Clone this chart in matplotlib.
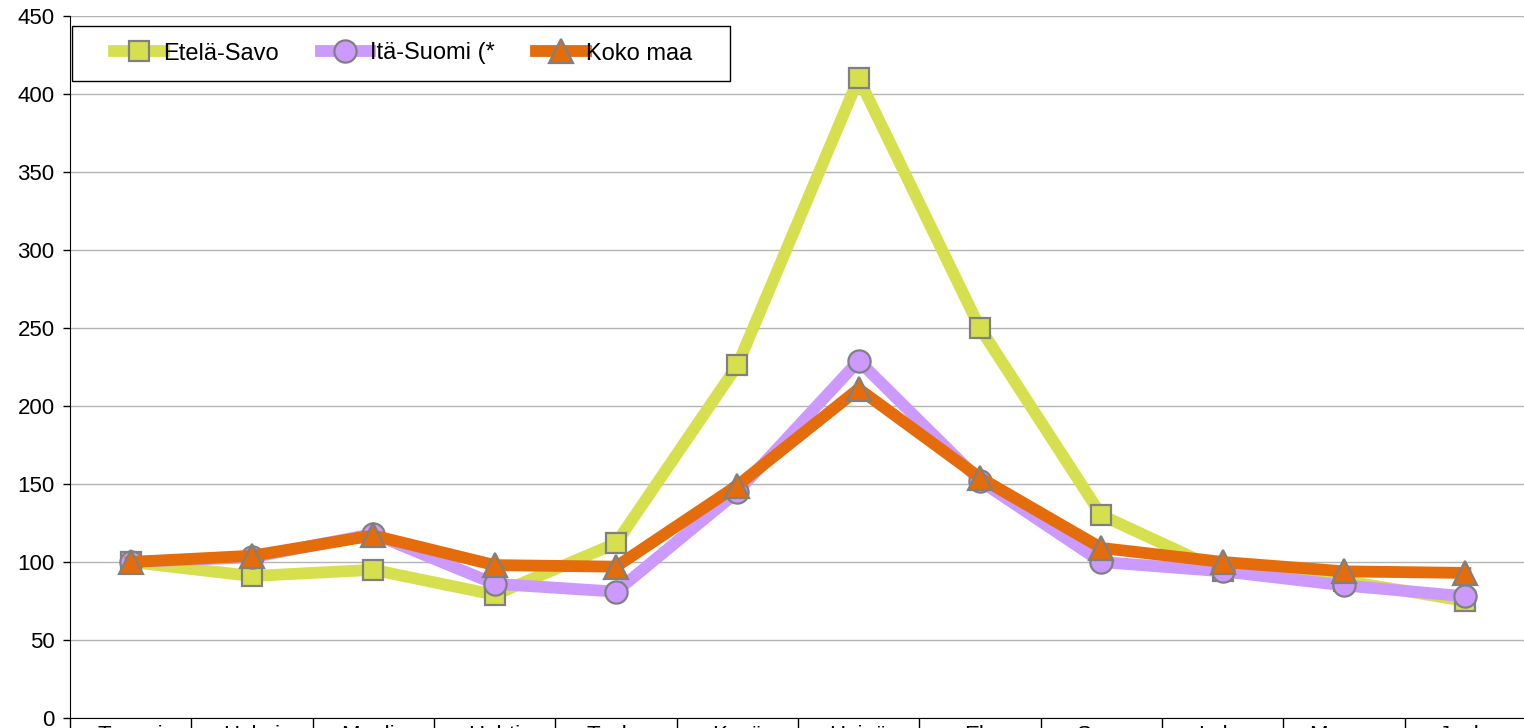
import matplotlib.pyplot as plt
from matplotlib.patches import Rectangle
from matplotlib.ticker import FixedLocator

plt.rcParams['font.family'] = ['Liberation Sans', 'DejaVu Sans']

# DATA
months = ["Tammi", "Helmi", "Maalis", "Huhti", "Touko", "Kesä",
          "Heinä", "Elo", "Syys", "Loka", "Marras", "Joulu"]
etela_savo = [100, 91, 95, 79, 112, 226, 410, 250, 130, 94, 88, 75]
ita_suomi = [100, 103, 118, 86, 81, 145, 229, 152, 100, 94, 85, 78]
koko_maa = [100, 104, 117, 98, 97, 149, 211, 154, 109, 100, 94, 93]

x = list(range(len(months)))

fig = plt.figure(figsize=(15.24, 7.28), dpi=100)
ax = fig.add_axes([70 / 1524, 10 / 728, 1456 / 1524, 702 / 728])

edge = '#808080'
ax.plot(x, etela_savo, color='#D6E04E', lw=8.5, marker='s', ms=15,
        mfc='#D6E04E', mec=edge, mew=1.6, label='Etelä-Savo', zorder=3)
ax.plot(x, ita_suomi, color='#CC99FF', lw=8.5, marker='o', ms=16,
        mfc='#CC99FF', mec=edge, mew=1.6, label='Itä-Suomi (*', zorder=4)
ax.plot(x, koko_maa, color='#E46C0A', lw=8.5, marker='^', ms=17,
        mfc='#E46C0A', mec=edge, mew=1.6, label='Koko maa', zorder=5)

ax.set_xlim(-0.5, len(months) - 0.5)
ax.set_ylim(0, 450)
ax.set_yticks(range(0, 451, 50))
ax.grid(axis='y', color='#b3b3b3', lw=1)
ax.set_axisbelow(True)

ax.set_xticks(x)
ax.set_xticklabels(months)
ax.xaxis.set_minor_locator(FixedLocator([i - 0.5 for i in range(len(months) + 1)]))
ax.tick_params(axis='x', which='major', length=0, pad=5, labelsize=16)
ax.tick_params(axis='x', which='minor', length=10, width=1, color='black')
ax.tick_params(axis='y', length=5, width=1, labelsize=16, pad=6)

for s in ['top', 'right']:
    ax.spines[s].set_visible(False)
ax.spines['left'].set_color('black')
ax.spines['bottom'].set_color('black')

# legend box drawn separately so the padding matches
box = Rectangle((72 / 1524, 1 - 81 / 728), 658 / 1524, 55 / 728,
                transform=fig.transFigure, facecolor='white',
                edgecolor='black', lw=1, zorder=6, clip_on=False)
ax.add_patch(box)
leg = ax.legend(loc='center left', bbox_to_anchor=(114 / 1524, 1 - 53.5 / 728),
                bbox_transform=fig.transFigure, ncol=3, fontsize=17,
                frameon=False, borderpad=0, borderaxespad=0, handlelength=2.1,
                handletextpad=0.0, columnspacing=1.75)
leg.set_zorder(7)

fig.savefig('out.png', dpi=100)
